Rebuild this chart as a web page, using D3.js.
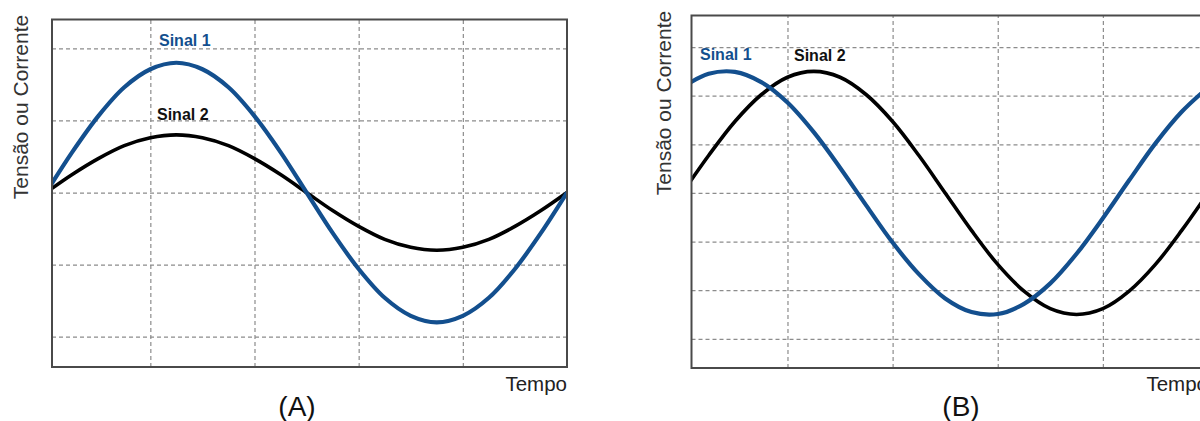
<!DOCTYPE html>
<html>
<head>
<meta charset="utf-8">
<script src="https://cdn.jsdelivr.net/npm/d3@7"></script>
<style>
  body { margin: 0; background: #fff; }
  svg { display: block; font-family: "Liberation Sans", Arial, sans-serif; }
</style>
</head>
<body>
<div id="chart"></div>
<script>

// tempo (grid units), one sample every quarter division
var tempo = [0, 0.25, 0.5, 0.75, 1, 1.25, 1.5, 1.75, 2, 2.25, 2.5,
             2.75, 3, 3.25, 3.5, 3.75, 4, 4.25, 4.5, 4.75, 5];

// (A) signals in phase
var sinal1A = [0, 0.56, 1.06, 1.46, 1.71, 1.8, 1.71, 1.46, 1.06, 0.56, 0,
               -0.56, -1.06, -1.46, -1.71, -1.8, -1.71, -1.46, -1.06, -0.56, 0];
var sinal2A = [0, 0.25, 0.47, 0.65, 0.76, 0.8, 0.76, 0.65, 0.47, 0.25, 0,
               -0.25, -0.47, -0.65, -0.76, -0.8, -0.76, -0.65, -0.47, -0.25, 0];

// (B) sinal 1 leading sinal 2
var sinal1B = [2.17, 2.45, 2.49, 2.28, 1.86, 1.25, 0.52, -0.26, -1.02, -1.67, -2.17,
               -2.45, -2.49, -2.28, -1.86, -1.25, -0.52, 0.26, 1.02, 1.67, 2.17];
var sinal2B = [0, 0.77, 1.47, 2.02, 2.38, 2.5, 2.38, 2.02, 1.47, 0.77, 0,
               -0.77, -1.47, -2.02, -2.38, -2.5, -2.38, -2.02, -1.47, -0.77, 0];

var xTicks = [1, 2, 3, 4];
var yTicksA = [-2, -1, 0, 1, 2];
var yTicksB = [-3, -2, -1, 0, 1, 2, 3];

var labelY = "Tensão ou Corrente";
var labelX = "Tempo";
var seriesNames = ["Sinal 1", "Sinal 2"];

var w = 1200;
var h = 421;
var blue = "#134f8e";

var svg = d3.select("#chart")
            .append("svg")
            .attr("width", w)
            .attr("height", h);

function panel(p) {
    var x = d3.scaleLinear().domain(p.xDomain).range([p.left, p.right]);
    var y = d3.scaleLinear().domain(p.yDomain).range([p.bottom, p.top]);
    var g = svg.append("g");

    // grid
    g.append("g")
        .attr("transform", "translate(0," + p.bottom + ")")
        .call(d3.axisBottom(x).tickValues(xTicks).tickSize(-(p.bottom - p.top)).tickFormat(""))
        .call(function(a){ a.select(".domain").remove(); });
    g.append("g")
        .attr("transform", "translate(" + p.left + ",0)")
        .call(d3.axisLeft(y).tickValues(p.yTicks).tickSize(-(p.right - p.left)).tickFormat(""))
        .call(function(a){ a.select(".domain").remove(); });
    g.selectAll(".tick line")
        .attr("stroke", "#8c8c8c")
        .attr("stroke-width", 1.2)
        .attr("stroke-dasharray", "4,3");

    g.append("clipPath")
        .attr("id", p.id)
        .append("rect")
        .attr("x", p.left).attr("y", p.top)
        .attr("width", p.right - p.left).attr("height", p.bottom - p.top);

    var line = d3.line()
        .x(function(d, i){ return x(tempo[i]); })
        .y(function(d){ return y(d); })
        .curve(d3.curveCatmullRom);

    g.append("path")
        .attr("d", line(p.s2))
        .attr("clip-path", "url(#" + p.id + ")")
        .attr("fill", "none").attr("stroke", "#000").attr("stroke-width", 3.6);
    g.append("path")
        .attr("d", line(p.s1))
        .attr("clip-path", "url(#" + p.id + ")")
        .attr("fill", "none").attr("stroke", blue).attr("stroke-width", 4.2);

    g.append("rect")
        .attr("x", p.left).attr("y", p.top)
        .attr("width", p.right - p.left).attr("height", p.bottom - p.top)
        .attr("fill", "none").attr("stroke", "#4a4a4a").attr("stroke-width", 2);

    // labels
    g.append("text").text(seriesNames[0])
        .attr("x", p.l1[0]).attr("y", p.l1[1])
        .attr("fill", blue).attr("font-weight", "bold").attr("font-size", 16);
    g.append("text").text(seriesNames[1])
        .attr("x", p.l2[0]).attr("y", p.l2[1])
        .attr("fill", "#111").attr("font-weight", "bold").attr("font-size", 16);

    g.append("text").text(labelY)
        .attr("transform", "translate(" + p.yl[0] + "," + p.yl[1] + ") rotate(-90)")
        .attr("text-anchor", "middle")
        .attr("fill", "#333").attr("font-size", 21);
    g.append("text").text(labelX)
        .attr("x", p.right).attr("y", 391)
        .attr("text-anchor", "end")
        .attr("fill", "#222").attr("font-size", 20.5);
    g.append("text").text(p.name)
        .attr("x", p.nameX).attr("y", 416)
        .attr("text-anchor", "middle")
        .attr("fill", "#111").attr("font-size", 28);
}

panel({
    id: "clipA", name: "(A)", nameX: 297,
    left: 52, right: 567, top: 19.5, bottom: 367,
    xDomain: [0.056, 5], yDomain: [-2.42, 2.4], yTicks: yTicksA,
    s1: sinal1A, s2: sinal2A,
    l1: [159, 46], l2: [157, 120], yl: [28, 107]
});

panel({
    id: "clipB", name: "(B)", nameX: 961,
    left: 691.5, right: 1208, top: 15.5, bottom: 368,
    xDomain: [0.087, 5], yDomain: [-3.6, 3.65], yTicks: yTicksB,
    s1: sinal1B, s2: sinal2B,
    l1: [700, 60], l2: [794, 61], yl: [671, 103]
});

</script>
</body>
</html>
